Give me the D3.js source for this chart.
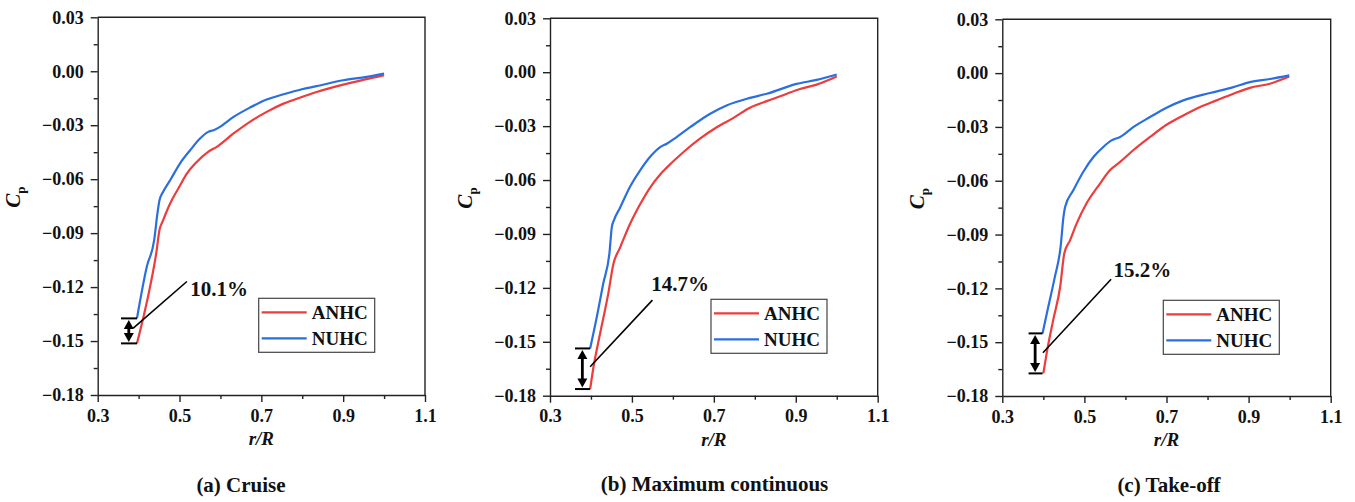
<!DOCTYPE html>
<html>
<head>
<meta charset="utf-8">
<script src="https://cdn.jsdelivr.net/npm/d3@7"></script>
<style>
  html, body { margin: 0; padding: 0; background: #fff; }
  svg { display: block; }
  svg text { font-family: "Liberation Serif", Tinos, "Times New Roman", "DejaVu Serif", "Noto Serif", serif !important; font-weight: bold; fill: #111; }
</style>
</head>
<body>
<svg id="chart" width="1355" height="502"></svg>
<script>
// ---------------- data ----------------
const seriesNames = ["ANHC", "NUHC"];
const panelTitles = ["(a) Cruise", "(b) Maximum continuous", "(c) Take-off"];
const diffLabels = ["10.1%", "14.7%", "15.2%"];
const xTicks = [0.3, 0.5, 0.7, 0.9, 1.1];
const yTicks = [-0.18, -0.15, -0.12, -0.09, -0.06, -0.03, 0.00, 0.03];

// (a) Cruise
const aANHC_x = [0.396, 0.412, 0.428, 0.443, 0.451, 0.460, 0.477, 0.497, 0.518, 0.542, 0.570, 0.591, 0.632, 0.672, 0.713, 0.754, 0.799, 0.835, 0.900, 0.957, 1.000];
const aANHC_y = [-0.1513, -0.1365, -0.1198, -0.1013, -0.0883, -0.0828, -0.0735, -0.0652, -0.0569, -0.0504, -0.0448, -0.0420, -0.0346, -0.0281, -0.0226, -0.0180, -0.0143, -0.0115, -0.0074, -0.0044, -0.0022];
const aNUHC_x = [0.396, 0.420, 0.438, 0.446, 0.451, 0.460, 0.477, 0.501, 0.526, 0.550, 0.570, 0.583, 0.599, 0.632, 0.672, 0.713, 0.754, 0.799, 0.835, 0.900, 0.957, 1.000];
const aNUHC_y = [-0.1374, -0.1087, -0.0939, -0.0790, -0.0717, -0.0670, -0.0606, -0.0513, -0.0439, -0.0374, -0.0337, -0.0328, -0.0309, -0.0254, -0.0202, -0.0157, -0.0128, -0.0100, -0.0083, -0.0050, -0.0031, -0.0013];

// (b) Maximum continuous
const bANHC_x = [0.398, 0.406, 0.422, 0.442, 0.455, 0.471, 0.495, 0.520, 0.544, 0.569, 0.585, 0.626, 0.666, 0.707, 0.748, 0.788, 0.829, 0.869, 0.910, 0.951, 1.000];
const bANHC_y = [-0.1763, -0.1643, -0.1457, -0.1235, -0.1065, -0.0976, -0.0846, -0.0735, -0.0643, -0.0569, -0.0531, -0.0444, -0.0370, -0.0306, -0.0254, -0.0198, -0.0161, -0.0128, -0.0093, -0.0069, -0.0024];
const bNUHC_x = [0.398, 0.414, 0.430, 0.445, 0.451, 0.456, 0.471, 0.495, 0.520, 0.544, 0.569, 0.585, 0.609, 0.642, 0.691, 0.731, 0.788, 0.829, 0.902, 0.951, 1.000];
const bNUHC_y = [-0.1537, -0.1365, -0.1176, -0.1009, -0.0861, -0.0824, -0.0754, -0.0639, -0.0546, -0.0472, -0.0417, -0.0398, -0.0361, -0.0306, -0.0231, -0.0185, -0.0143, -0.0120, -0.0065, -0.0043, -0.0013];

// (c) Take-off
const cANHC_x = [0.400, 0.408, 0.424, 0.441, 0.451, 0.465, 0.481, 0.505, 0.538, 0.562, 0.587, 0.619, 0.660, 0.700, 0.741, 0.782, 0.822, 0.863, 0.903, 0.952, 0.999];
const cANHC_y = [-0.1674, -0.1562, -0.1377, -0.1191, -0.1006, -0.0932, -0.0839, -0.0727, -0.0616, -0.0542, -0.0495, -0.0430, -0.0356, -0.0288, -0.0236, -0.0189, -0.0152, -0.0115, -0.0082, -0.0059, -0.0019];
const cNUHC_x = [0.398, 0.412, 0.428, 0.442, 0.449, 0.453, 0.473, 0.497, 0.522, 0.546, 0.566, 0.587, 0.619, 0.660, 0.700, 0.741, 0.806, 0.863, 0.903, 0.952, 0.999];
const cNUHC_y = [-0.1451, -0.1303, -0.1136, -0.0969, -0.0802, -0.0746, -0.0653, -0.0551, -0.0468, -0.0412, -0.0375, -0.0356, -0.0301, -0.0245, -0.0193, -0.0152, -0.0111, -0.0078, -0.0050, -0.0033, -0.0013];

// ---------------- layout ----------------
const FONT = '"Liberation Serif", Tinos, "Times New Roman", "DejaVu Serif", "Noto Serif", serif';
const colors = { ANHC: "#ee3b3b", NUHC: "#2a6fe0" };
const panels = [
  { left: 97.7, top: 17.3, right: 425, bottom: 395, titleX: 241, titleY: 492,
    series: [[aANHC_x, aANHC_y], [aNUHC_x, aNUHC_y]],
    capX0: 0.357, arrowX: 0.376, lead: [[0.387, -0.1428], [0.518, -0.1169]], labelAt: [0.526, -0.1248] },
  { left: 550, top: 18.3, right: 877.7, bottom: 395.7, titleX: 714.5, titleY: 491,
    series: [[bANHC_x, bANHC_y], [bNUHC_x, bNUHC_y]],
    capX0: 0.361, arrowX: 0.379, lead: [[0.398, -0.1639], [0.550, -0.1268]], labelAt: [0.547, -0.1218] },
  { left: 1002.3, top: 19.3, right: 1330.7, bottom: 396, titleX: 1169, titleY: 492,
    series: [[cANHC_x, cANHC_y], [cNUHC_x, cNUHC_y]],
    capX0: 0.364, arrowX: 0.380, lead: [[0.399, -0.1559], [0.565, -0.1149]], labelAt: [0.571, -0.1138] }
];

const svg = d3.select("#chart");
svg.append("rect").attr("width", 1355).attr("height", 502).attr("fill", "#fff");

const xMinor = [0.4, 0.6, 0.8, 1.0];
const yMinor = [-0.165, -0.135, -0.105, -0.075, -0.045, -0.015, 0.015];

panels.forEach((p, i) => {
  const x = d3.scaleLinear().domain([0.3, 1.1]).range([p.left, p.right]);
  const y = d3.scaleLinear().domain([-0.18, 0.03]).range([p.bottom, p.top]);
  const g = svg.append("g").attr("font-family", FONT);

  // frame (top & right)
  g.append("path")
    .attr("d", `M${p.left},${p.top}H${p.right}V${p.bottom}`)
    .attr("fill", "none").attr("stroke", "#222").attr("stroke-width", 1.4);

  // minor ticks
  g.append("g").attr("transform", `translate(0,${p.bottom})`)
    .call(d3.axisBottom(x).tickValues(xMinor).tickSize(4).tickFormat(""))
    .call(s => s.select(".domain").remove())
    .call(s => s.selectAll("line").attr("stroke", "#222").attr("stroke-width", 1.4));
  g.append("g").attr("transform", `translate(${p.left},0)`)
    .call(d3.axisLeft(y).tickValues(yMinor).tickSize(4).tickFormat(""))
    .call(s => s.select(".domain").remove())
    .call(s => s.selectAll("line").attr("stroke", "#222").attr("stroke-width", 1.4));

  // major axes
  const xa = g.append("g").attr("transform", `translate(0,${p.bottom})`)
    .call(d3.axisBottom(x).tickValues(xTicks).tickSize(7).tickSizeOuter(0).tickPadding(7).tickFormat(d3.format(".1f")));
  const ya = g.append("g").attr("transform", `translate(${p.left},0)`)
    .call(d3.axisLeft(y).tickValues(yTicks).tickSize(7).tickSizeOuter(0).tickPadding(7).tickFormat(d3.format(".2f")));
  [xa, ya].forEach(a => {
    a.attr("font-family", FONT).attr("font-size", 18);
    a.select(".domain").attr("stroke", "#222").attr("stroke-width", 1.4);
    a.selectAll("line").attr("stroke", "#222").attr("stroke-width", 1.4);
    a.selectAll("text").attr("font-size", 18).attr("font-weight", "bold").attr("fill", "#111");
  });

  // axis titles
  const cx = (p.left + p.right) / 2;
  g.append("text").attr("x", cx).attr("y", p.bottom + 50).attr("text-anchor", "middle")
    .attr("font-size", 19).attr("font-style", "italic").text("r/R");
  const yt = g.append("text").attr("transform", `translate(${p.left - 78},${(p.top + p.bottom) / 2 - 9}) rotate(-90)`)
    .attr("text-anchor", "middle").attr("font-size", 21);
  yt.append("tspan").attr("font-style", "italic").text("C");
  yt.append("tspan").attr("font-size", 13).attr("dy", 5).text("p");

  // curves
  const line = d3.line().x(d => x(d[0])).y(d => y(d[1])).curve(d3.curveMonotoneX);
  p.series.forEach((s, k) => {
    const pts = s[0].map((v, j) => [v, s[1][j]]);
    g.append("path").datum(pts).attr("d", line)
      .attr("fill", "none").attr("stroke", colors[seriesNames[k]]).attr("stroke-width", 2.2)
      .attr("stroke-linejoin", "round");
  });

  // difference bracket
  const yA = p.series[0][1][0], yN = p.series[1][1][0];
  const xEnd = p.series[1][0][0];
  [yA, yN].forEach(v => {
    g.append("line").attr("x1", x(p.capX0)).attr("x2", x(xEnd)).attr("y1", y(v)).attr("y2", y(v))
      .attr("stroke", "#000").attr("stroke-width", 2);
  });
  const ax = x(p.arrowX), yTop = y(yN) + 1.5, yBot = y(yA) - 1.5, hl = 9, hw = 5;
  g.append("line").attr("x1", ax).attr("x2", ax).attr("y1", yTop + hl - 1).attr("y2", yBot - hl + 1)
    .attr("stroke", "#000").attr("stroke-width", 2.8);
  g.append("path").attr("d", `M${ax},${yTop}L${ax - hw},${yTop + hl}L${ax + hw},${yTop + hl}Z`).attr("fill", "#000");
  g.append("path").attr("d", `M${ax},${yBot}L${ax - hw},${yBot - hl}L${ax + hw},${yBot - hl}Z`).attr("fill", "#000");
  g.append("line").attr("x1", x(p.lead[0][0])).attr("y1", y(p.lead[0][1]))
    .attr("x2", x(p.lead[1][0])).attr("y2", y(p.lead[1][1]))
    .attr("stroke", "#000").attr("stroke-width", 1.6);
  g.append("text").attr("x", x(p.labelAt[0])).attr("y", y(p.labelAt[1]))
    .attr("font-size", 21).text(diffLabels[i]);

  // legend
  const lx = p.left + 161, ly = p.top + 281;
  g.append("rect").attr("x", lx).attr("y", ly).attr("width", 116).attr("height", 54)
    .attr("fill", "#fff").attr("stroke", "#444").attr("stroke-width", 1.2);
  seriesNames.forEach((n, k) => {
    const yy = ly + 14 + k * 26;
    g.append("line").attr("x1", lx + 3).attr("x2", lx + 48).attr("y1", yy).attr("y2", yy)
      .attr("stroke", colors[n]).attr("stroke-width", 2.2);
    g.append("text").attr("x", lx + 53).attr("y", yy + 6.5).attr("font-size", 19).text(n);
  });

  // panel title
  svg.append("text").attr("x", p.titleX).attr("y", p.titleY).attr("text-anchor", "middle")
    .attr("font-family", FONT).attr("font-size", 21).text(panelTitles[i]);
});
</script>
</body>
</html>
